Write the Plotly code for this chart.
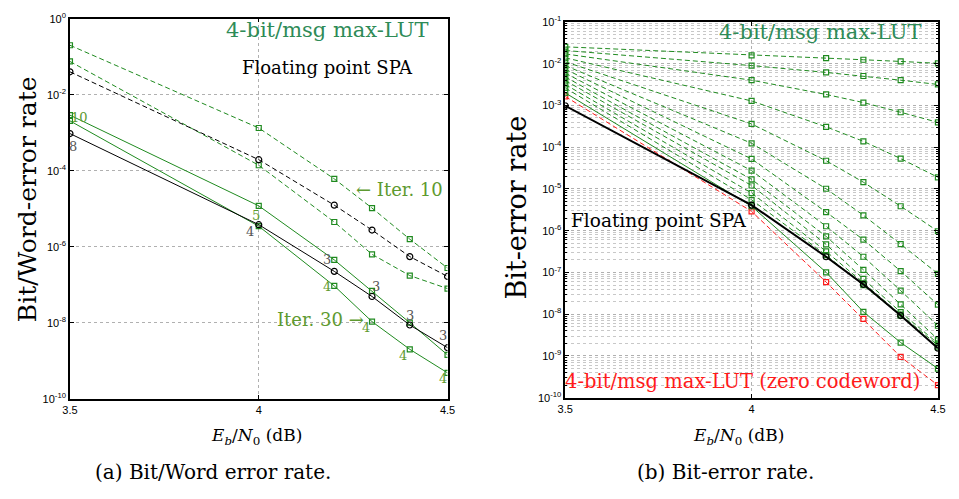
import plotly.graph_objects as go

W, H = 959, 499

# Eb/N0 points (dB), shared by both panels
ebn0 = [3.5, 4.0, 4.2, 4.3, 4.4, 4.5]

# ---- Panel (a): bit / word error rates ----
lut10_upper = [2.0e-1, 1.33e-3, 6.1e-5, 1.04e-5, 1.58e-6, 2.75e-7]
lut10_lower = [7.5e-2, 1.39e-4, 4.47e-6, 6.3e-7, 1.74e-7, 7.9e-8]
spa10 = [4.0e-2, 1.95e-4, 1.24e-5, 2.74e-6, 5.5e-7, 1.65e-7]
lut30_upper = [2.9e-3, 1.19e-5, 4.5e-7, 6.9e-8, 1.0e-8, 1.42e-9]
lut30_lower = [2.05e-3, 3.46e-6, 9.3e-8, 1.07e-8, 2.0e-9, 4.8e-10]
spa30 = [9.5e-4, 3.8e-6, 2.25e-7, 4.9e-8, 8.7e-9, 2.2e-9]

# ---- Panel (b): bit-error rate, max-LUT decoder by iteration count ----
lut_iter_ber = [
    [2.53e-2, 1.58e-2, 1.35e-2, 1.24e-2, 1.13e-2, 1.02e-2],
    [2.07e-2, 8.98e-3, 6.17e-3, 5.06e-3, 4.02e-3, 3.18e-3],
    [1.71e-2, 4.02e-3, 1.83e-3, 1.17e-3, 6.86e-4, 3.93e-4],
    [1.38e-2, 1.28e-3, 3.07e-4, 1.38e-4, 5.33e-5, 1.9e-5],
    [1.11e-2, 3.6e-4, 4.73e-5, 1.45e-5, 3.85e-6, 9.7e-7],
    [8.98e-3, 1.24e-4, 1.01e-5, 2.34e-6, 4.77e-7, 9.3e-8],
    [7.36e-3, 5.24e-5, 2.79e-6, 6.1e-7, 1.08e-7, 1.69e-8],
    [5.94e-3, 2.75e-5, 1.28e-6, 2.38e-7, 3.68e-8, 5.3e-9],
    [4.8e-3, 1.70e-5, 7.3e-7, 1.16e-7, 1.72e-8, 2.5e-9],
    [3.94e-3, 1.21e-5, 4.69e-7, 7.0e-8, 1.12e-8, 2.0e-9],
    [3.18e-3, 8.0e-6, 3.2e-7, 5.5e-8, 9.8e-9, 1.8e-9],
    [2.62e-3, 5.5e-6, 2.6e-7, 5.0e-8, 9.2e-9, 1.6e-9],
]
lut_final_ber = [2.0e-3, 3.85e-6, 1.01e-7, 1.14e-8, 2.1e-9, 5.0e-10]
spa_ber = [9.8e-4, 4.1e-6, 2.38e-7, 5.2e-8, 9.3e-9, 1.54e-9]
lut_zero_cw_ber = [1.64e-3, 2.9e-6, 5.9e-8, 7.7e-9, 9.5e-10, 2.0e-10]

# tick labels
x_ticks = [3.5, 4.0, 4.5]
x_ticktext = ["3.5", "4", "4.5"]
a_yticks = [1e0, 1e-2, 1e-4, 1e-6, 1e-8, 1e-10]
a_yticktext = ["10<sup>0</sup>", "10<sup>-2</sup>", "10<sup>-4</sup>",
               "10<sup>-6</sup>", "10<sup>-8</sup>", "10<sup>-10</sup>"]
b_yticks = [10.0 ** -k for k in range(1, 11)]
b_yticktext = ["10<sup>-%d</sup>" % k for k in range(1, 11)]

GREEN = "#1f8a1f"
RED = "#ff1a1a"
TEAL = "#2e8b57"
OLIVE = "#5e9a30"
GREY = "#555555"
SERIF = "DejaVu Serif"
SANS = "Liberation Sans"

fig = go.Figure()


def add(x, y, color, dash, symbol, xa, ya, width=1.0, msize=5):
    fig.add_trace(go.Scatter(
        x=x, y=y, mode="lines+markers", xaxis=xa, yaxis=ya,
        line=dict(color=color, width=width, dash=dash),
        marker=dict(symbol=symbol, size=msize, color=color,
                    line=dict(color=color, width=1.2)),
        showlegend=False, hoverinfo="skip"))


DASH = "5px,3px"
# panel (a)
add(ebn0, lut10_upper, GREEN, DASH, "square-open", "x", "y", msize=5)
add(ebn0, lut10_lower, GREEN, DASH, "square-open", "x", "y", msize=5)
add(ebn0, spa10, "black", DASH, "circle-open", "x", "y", msize=6)
add(ebn0, lut30_upper, GREEN, "solid", "square-open", "x", "y", msize=5)
add(ebn0, lut30_lower, GREEN, "solid", "square-open", "x", "y", msize=5)
add(ebn0, spa30, "black", "solid", "circle-open", "x", "y", msize=6)

# panel (b)
for series in lut_iter_ber:
    add(ebn0, series, GREEN, DASH, "square-open", "x2", "y2", msize=5)
add(ebn0, lut_zero_cw_ber, RED, DASH, "square-open", "x2", "y2", msize=5)
add(ebn0, lut_final_ber, GREEN, "solid", "square-open", "x2", "y2", msize=5)
add(ebn0, spa_ber, "black", "solid", "circle-open", "x2", "y2", width=2.0, msize=6)

axis_common = dict(
    showline=True, linecolor="black", linewidth=1.5, mirror="ticks",
    ticks="inside", ticklen=4, tickcolor="black",
    tickfont=dict(family=SANS, size=11, color="black"),
    showgrid=True, gridcolor="#b0b0b0", griddash="dot", gridwidth=1,
    zeroline=False,
)

fig.update_layout(
    width=W, height=H, margin=dict(l=0, r=0, t=0, b=0),
    paper_bgcolor="white", plot_bgcolor="white",
    xaxis=dict(domain=[63 / W, 447 / W], anchor="y", range=[3.5, 4.5],
               tickvals=x_ticks, ticktext=x_ticktext, **axis_common),
    yaxis=dict(domain=[1 - 402 / H, 1 - 11 / H], anchor="x", type="log",
               range=[-10, 0], tickvals=a_yticks, ticktext=a_yticktext,
               **axis_common),
    xaxis2=dict(domain=[566.7 / W, 945.7 / W], anchor="y2", range=[3.5, 4.5],
                tickvals=x_ticks, ticktext=x_ticktext, **axis_common),
    yaxis2=dict(domain=[1 - 401 / H, 1 - 14.3 / H], anchor="x2", type="log",
                range=[-10, -1], tickvals=b_yticks, ticktext=b_yticktext,
                minor=dict(dtick="D1", showgrid=True, gridcolor="#c8c8c8",
                           griddash="dot", gridwidth=1, ticks="inside",
                           ticklen=2, tickcolor="black"),
                **axis_common),
)


def label(text, px, py, size, color="black", family=SERIF, angle=0, anchor="center"):
    fig.add_annotation(text=text, x=px / W, y=1 - py / H, xref="paper", yref="paper",
                       showarrow=False, xanchor=anchor, yanchor="middle",
                       textangle=angle, font=dict(family=family, size=size, color=color))


# panel (a) texts
label("4-bit/msg max-LUT", 324, 23, 21, TEAL)
label("Floating point SPA", 325, 61, 18)
label("\u2190 Iter. 10", 398, 187, 18, OLIVE)
label("Iter. 30 \u2192", 318, 320, 18, OLIVE)
label("Bit/Word-error rate", 20, 197, 25, angle=-90)
label("<i>E</i><sub><i>b</i></sub>/<i>N</i><sub>0</sub> (dB)", 253, 441, 17)
label("(a) Bit/Word error rate.", 208, 477, 20)

# average iteration counts next to the points
for txt, px, py, col in [
    ("10", 73, 113, OLIVE), ("8", 66, 143, GREY),
    ("5", 252, 213, OLIVE), ("4", 246, 230, GREY),
    ("3", 324, 259, GREY), ("4", 324, 287, OLIVE),
    ("3", 374, 287, GREY), ("4", 364, 329, OLIVE),
    ("3", 409, 316, GREY), ("4", 402, 358, OLIVE),
    ("3", 442, 337, GREY), ("4", 442, 381, OLIVE),
]:
    label(txt, px, py, 13, col)

# panel (b) texts
label("4-bit/msg max-LUT", 826, 25, 21, TEAL)
label("Floating point SPA", 662, 219, 18.5)
label("4-bit/msg max-LUT (zero codeword)", 747, 384, 19.5, RED)
label("Bit-error rate", 517, 205, 27, angle=-90)
label("<i>E</i><sub><i>b</i></sub>/<i>N</i><sub>0</sub> (dB)", 743, 441, 17)
label("(b) Bit-error rate.", 730, 477, 20)

fig.write_html("out.html")
